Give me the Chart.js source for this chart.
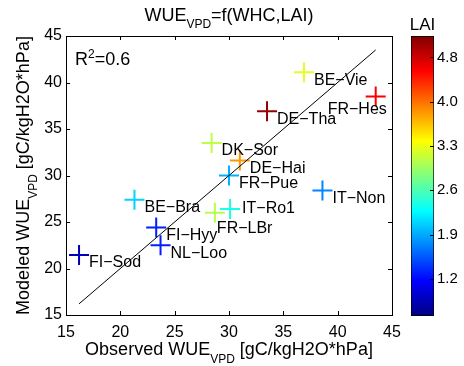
<!DOCTYPE html>
<html>
<head>
<meta charset="utf-8">
<script src="https://cdn.jsdelivr.net/npm/chart.js@4"></script>
<style>
body { margin:0; background:#fff; }
#wrap { position:relative; width:464px; height:366px; }
canvas { position:absolute; left:0; top:0; }
</style>
</head>
<body>
<div id="wrap">
  <canvas id="main" width="464" height="366"></canvas>
  <canvas id="cbar" width="464" height="366"></canvas>
</div>
<script>
// site data
var sites    = ['BE-Vie','FR-Hes','DE-Tha','DK-Sor','DE-Hai','FR-Pue','IT-Non','BE-Bra','IT-Ro1','FR-LBr','FI-Hyy','NL-Loo','FI-Sod'];
var observed = [36.9, 43.5, 33.5, 28.4, 31.0, 30.0, 38.6, 21.3, 30.1, 28.7, 23.3, 23.7, 16.2];
var modeled  = [41.1, 38.5, 36.9, 33.5, 31.6, 30.0, 28.4, 27.4, 26.4, 26.0, 24.4, 22.5, 21.45];
var lai      = [3.3, 4.57, 5.02, 3.13, 3.88, 1.95, 1.75, 2.1, 2.4, 3.1, 1.3, 1.3, 0.85];
var oneToOne = [16.2, 43.5];
var axisTicks = [15, 20, 25, 30, 35, 40, 45];
var laiMin = 0.60, laiMax = 5.12;
var laiTickValues = [1.2, 1.915, 2.63, 3.345, 4.06, 4.775];
var laiTickLabels = ['1.2','1.9','2.6','3.3','4.0','4.8'];

var FONT = '"Liberation Sans", Arial, sans-serif';
Chart.defaults.font.family = FONT;
Chart.defaults.color = '#000';

// matlab jet
function jetT(t){
  function c(x){ return Math.round(255*Math.max(0, Math.min(1, x))); }
  return 'rgb(' + c(1.5-Math.abs(4*t-3)) + ',' + c(1.5-Math.abs(4*t-2)) + ',' + c(1.5-Math.abs(4*t-1)) + ')';
}
function jet(v){ return jetT((v-laiMin)/(laiMax-laiMin)); }

// text with sub/superscripts: parts = [text, size, dy]
function richText(ctx, parts, x, y, align){
  var w = 0;
  parts.forEach(function(p){ ctx.font = p[1]+'px '+FONT; w += ctx.measureText(p[0]).width; });
  var cx = align === 'center' ? x - w/2 : x;
  ctx.textAlign = 'left';
  ctx.textBaseline = 'alphabetic';
  parts.forEach(function(p){
    ctx.font = p[1]+'px '+FONT;
    ctx.fillText(p[0], cx, y + p[2]);
    cx += ctx.measureText(p[0]).width;
  });
}

// where the label sits relative to its cross (default right/below)
var labelShift = { 'IT-Ro1': [12, 0], 'FR-LBr': [2, 16], 'FR-Hes': [-48, 13] };

var labelPlugin = {
  id: 'siteLabels',
  afterDatasetsDraw: function(chart){
    var ctx = chart.ctx;
    var meta = chart.getDatasetMeta(0);
    ctx.save();
    ctx.fillStyle = '#000';
    ctx.font = '16px ' + FONT;
    ctx.textBaseline = 'middle';
    ctx.textAlign = 'left';
    meta.data.forEach(function(pt, i){
      var off = labelShift[sites[i]] || [10, 8];
      ctx.fillText(sites[i].replace('-', '\u2212'), pt.x + off[0], pt.y + off[1]);
    });
    ctx.restore();
  }
};

var framePlugin = {
  id: 'frame',
  afterDraw: function(chart){
    var ctx = chart.ctx, a = chart.chartArea;
    var xs = chart.scales.x, ys = chart.scales.y;
    ctx.save();
    ctx.strokeStyle = '#000';
    ctx.lineWidth = 1;
    ctx.strokeRect(Math.round(a.left)+0.5, Math.round(a.top)+0.5, Math.round(a.right-a.left), Math.round(a.bottom-a.top));
    ctx.beginPath();
    axisTicks.forEach(function(v){
      var px = Math.round(xs.getPixelForValue(v)) + 0.5;
      ctx.moveTo(px, a.bottom); ctx.lineTo(px, a.bottom-4);
      ctx.moveTo(px, a.top); ctx.lineTo(px, a.top+4);
      var py = Math.round(ys.getPixelForValue(v)) + 0.5;
      ctx.moveTo(a.left, py); ctx.lineTo(a.left+4, py);
      ctx.moveTo(a.right, py); ctx.lineTo(a.right-4, py);
    });
    ctx.stroke();
    ctx.fillStyle = '#000';
    richText(ctx, [['WUE',18,0],['VPD',12,7],['=f(WHC,LAI)',18,0]], (a.left+a.right)/2, 21, 'center');
    richText(ctx, [['Observed WUE',18,0],['VPD',12,8],[' [gC/kgH2O*hPa]',18,0]], (a.left+a.right)/2, 355, 'center');
    richText(ctx, [['R',18,0],['2',12,-7],['=0.6',18,0]], a.left+9, a.top+29, 'left');
    ctx.translate(28.5, (a.top+a.bottom)/2);
    ctx.rotate(-Math.PI/2);
    richText(ctx, [['Modeled WUE',18,0],['VPD',12,8],[' [gC/kgH2O*hPa]',18,0]], 0, 0, 'center');
    ctx.restore();
  }
};

var tickFont = { family: FONT, size: 16 };

var mainChart = new Chart(document.getElementById('main'), {
  type: 'scatter',
  data: {
    datasets: [
      {
        data: observed.map(function(x, i){ return { x: x, y: modeled[i] }; }),
        pointStyle: 'cross',
        pointRadius: 10,
        pointHoverRadius: 10,
        pointBorderWidth: 2,
        pointBorderColor: lai.map(jet),
        pointBackgroundColor: lai.map(jet),
        order: 2
      },
      {
        type: 'line',
        data: oneToOne.map(function(v){ return { x: v, y: v }; }),
        borderColor: '#000',
        borderWidth: 1,
        pointRadius: 0,
        fill: false,
        order: 1
      }
    ]
  },
  options: {
    responsive: false,
    animation: false,
    events: [],
    layout: { padding: { left: 0, right: 72, top: 36, bottom: 0 } },
    plugins: { legend: { display: false }, tooltip: { enabled: false } },
    scales: {
      x: {
        type: 'linear', min: 15, max: 45,
        afterBuildTicks: function(s){ s.ticks = axisTicks.map(function(v){ return { value: v }; }); },
        grid: { display: false, drawTicks: false }, border: { display: false },
        ticks: { font: tickFont, padding: 8, maxRotation: 0 },
        afterFit: function(s){ s.height = 51; }
      },
      y: {
        type: 'linear', min: 15, max: 45,
        afterBuildTicks: function(s){ s.ticks = axisTicks.map(function(v){ return { value: v }; }); },
        grid: { display: false, drawTicks: false }, border: { display: false },
        ticks: { font: tickFont, padding: 4 },
        afterFit: function(s){ s.width = 66; }
      }
    }
  },
  plugins: [labelPlugin, framePlugin]
});

var cbarPlugin = {
  id: 'cbarTicks',
  afterDraw: function(chart){
    var ctx = chart.ctx, a = chart.chartArea, ys = chart.scales.y;
    ctx.save();
    ctx.strokeStyle = '#000';
    ctx.lineWidth = 1;
    ctx.beginPath();
    laiTickValues.forEach(function(v){
      var py = Math.round(ys.getPixelForValue(v)) + 0.5;
      ctx.moveTo(a.right, py); ctx.lineTo(a.right-4, py);
    });
    ctx.stroke();
    ctx.fillStyle = '#000';
    ctx.font = '17px ' + FONT;
    ctx.textAlign = 'center';
    ctx.textBaseline = 'alphabetic';
    ctx.fillText('LAI', (a.left+a.right)/2, 30);
    ctx.restore();
  }
};

var cbarChart = new Chart(document.getElementById('cbar'), {
  type: 'bar',
  data: {
    labels: ['LAI'],
    datasets: [{
      data: [[laiMin, laiMax]],
      backgroundColor: function(c){
        var a = c.chart.chartArea;
        if (!a) return 'rgba(0,0,0,0)';
        var g = c.chart.ctx.createLinearGradient(0, a.bottom, 0, a.top);
        for (var k = 0; k <= 8; k++) g.addColorStop(k/8, jetT(k/8));
        return g;
      },
      borderColor: '#000',
      borderWidth: 1,
      borderSkipped: false,
      barPercentage: 1,
      categoryPercentage: 1
    }]
  },
  options: {
    responsive: false,
    animation: false,
    events: [],
    layout: { padding: { left: 411, right: 0, top: 36, bottom: 50 } },
    plugins: { legend: { display: false }, tooltip: { enabled: false } },
    scales: {
      x: { display: false },
      y: {
        position: 'right', min: laiMin, max: laiMax,
        afterBuildTicks: function(s){ s.ticks = laiTickValues.map(function(v){ return { value: v }; }); },
        ticks: { font: { family: FONT, size: 15 }, padding: 3, callback: function(v, i){ return laiTickLabels[i]; } },
        grid: { display: false, drawTicks: false }, border: { display: false },
        afterFit: function(s){ s.width = 30; }
      }
    }
  },
  plugins: [cbarPlugin]
});
</script>
</body>
</html>
